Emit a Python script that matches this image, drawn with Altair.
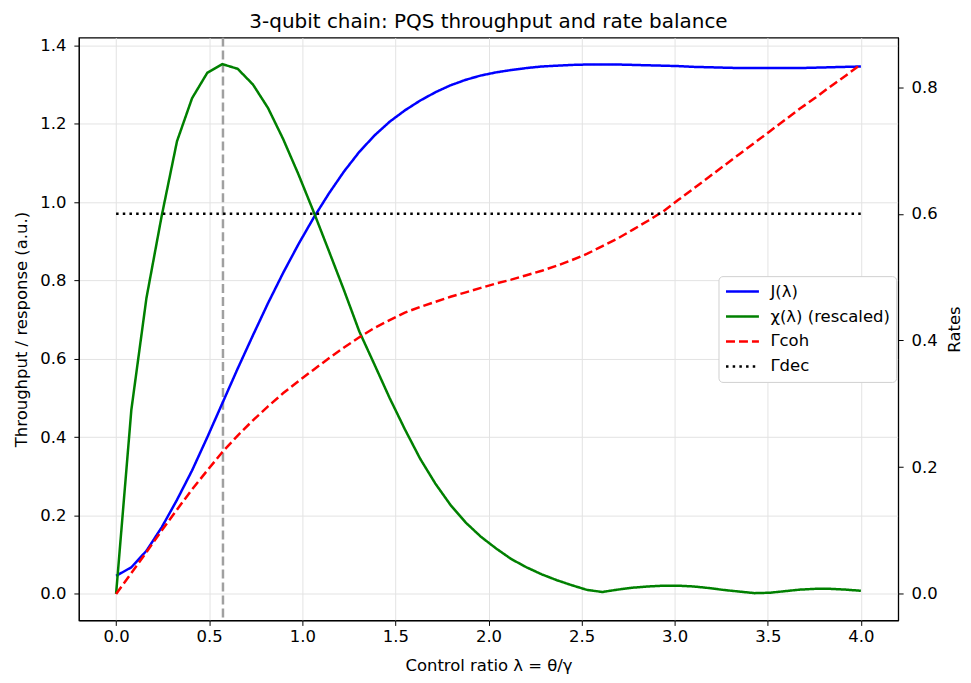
import altair as alt
import pandas as pd

lam = [0.000, 0.082, 0.163, 0.245, 0.327, 0.408, 0.490, 0.571, 0.653, 0.735,
       0.816, 0.898, 0.980, 1.061, 1.143, 1.224, 1.306, 1.388, 1.469, 1.551,
       1.633, 1.714, 1.796, 1.878, 1.959, 2.041, 2.122, 2.204, 2.286, 2.367,
       2.449, 2.531, 2.612, 2.694, 2.776, 2.857, 2.939, 3.020, 3.102, 3.184,
       3.265, 3.347, 3.429, 3.510, 3.592, 3.673, 3.755, 3.837, 3.918, 4.000]

J_vals = [0.046, 0.068, 0.110, 0.170, 0.240, 0.315, 0.400, 0.487, 0.575, 0.660,
          0.742, 0.820, 0.893, 0.960, 1.022, 1.078, 1.128, 1.170, 1.205, 1.234,
          1.259, 1.280, 1.298, 1.312, 1.323, 1.331, 1.337, 1.342, 1.346, 1.348,
          1.350, 1.351, 1.351, 1.351, 1.350, 1.349, 1.348, 1.347, 1.345, 1.344,
          1.343, 1.342, 1.342, 1.342, 1.342, 1.342, 1.343, 1.344, 1.345, 1.346]

chi_vals = [0.000, 0.470, 0.755, 0.965, 1.155, 1.265, 1.330, 1.352, 1.340, 1.300,
            1.240, 1.160, 1.070, 0.975, 0.875, 0.775, 0.670, 0.585, 0.500, 0.420,
            0.345, 0.282, 0.227, 0.182, 0.146, 0.116, 0.089, 0.068, 0.050, 0.035,
            0.022, 0.010, 0.005, 0.011, 0.016, 0.019, 0.021, 0.021, 0.019, 0.015,
            0.010, 0.006, 0.002, 0.003, 0.007, 0.011, 0.013, 0.013, 0.011, 0.008]

gcoh_vals = [0.000, 0.033, 0.066, 0.100, 0.133, 0.165, 0.195, 0.224, 0.250, 0.274,
             0.296, 0.317, 0.336, 0.354, 0.372, 0.389, 0.405, 0.420, 0.432, 0.444,
             0.453, 0.461, 0.469, 0.476, 0.483, 0.490, 0.496, 0.503, 0.510, 0.518,
             0.527, 0.537, 0.549, 0.561, 0.575, 0.589, 0.604, 0.622, 0.640, 0.658,
             0.676, 0.694, 0.712, 0.730, 0.748, 0.766, 0.783, 0.801, 0.818, 0.836]

gdec_value = 0.6
peak_lambda = 0.574

names = ["J(λ)", "χ(λ) (rescaled)", "Γcoh", "Γdec"]
colors = ["#0000ff", "#008000", "#ff0000", "#000000"]
dashes = [[1, 0], [1, 0], [9, 4], [2.5, 4.2]]

x_ticks = [0.0, 0.5, 1.0, 1.5, 2.0, 2.5, 3.0, 3.5, 4.0]
left_ticks = [0.0, 0.2, 0.4, 0.6, 0.8, 1.0, 1.2, 1.4]
right_ticks = [0.0, 0.2, 0.4, 0.6, 0.8]

left_df = pd.concat([
    pd.DataFrame({"lam": lam, "value": J_vals, "series": names[0]}),
    pd.DataFrame({"lam": lam, "value": chi_vals, "series": names[1]}),
])
right_df = pd.concat([
    pd.DataFrame({"lam": lam, "value": gcoh_vals, "series": names[2]}),
    pd.DataFrame({"lam": lam, "value": [gdec_value] * len(lam), "series": names[3]}),
])
peak_df = pd.DataFrame({"lam": [peak_lambda]})

FS = 16.5
LW = 2.5

xenc = alt.X("lam:Q",
             scale=alt.Scale(domain=[-0.2, 4.2], nice=False, zero=False),
             axis=alt.Axis(values=x_ticks, format=".1f", title="Control ratio λ = θ/γ",
                           grid=True, titlePadding=13, labelPadding=3))

leg = alt.Legend(title=None, orient="none", legendX=641, legendY=239,
                 symbolType="stroke", symbolSize=1089, symbolStrokeWidth=LW,
                 clipHeight=19, rowPadding=6, padding=6, labelOffset=10,
                 strokeColor="#d0d0d0", cornerRadius=4, fillColor="white",
                 labelFontSize=FS, labelFont="DejaVu Sans", labelColor="black")

color = alt.Color("series:N", scale=alt.Scale(domain=names, range=colors), legend=leg)
dash = alt.StrokeDash("series:N", scale=alt.Scale(domain=names, range=dashes), legend=leg)

rule = alt.Chart(peak_df).mark_rule(color="#a0a0a0", strokeDash=[9, 4], strokeWidth=LW).encode(
    x=xenc
)

left = alt.Chart(left_df).mark_line(strokeWidth=LW).encode(
    x=xenc,
    y=alt.Y("value:Q",
            scale=alt.Scale(domain=[-0.0676, 1.4196], nice=False, zero=False),
            axis=alt.Axis(values=left_ticks, format=".1f", orient="left",
                          title="Throughput / response (a.u.)", grid=True,
                          titlePadding=10, labelPadding=8)),
    color=color,
    strokeDash=dash,
    order="lam:Q",
)

right = alt.Chart(right_df).mark_line(strokeWidth=LW).encode(
    x=xenc,
    y=alt.Y("value:Q",
            scale=alt.Scale(domain=[-0.0418, 0.878], nice=False, zero=False),
            axis=alt.Axis(values=right_ticks, format=".1f", orient="right",
                          title="Rates", grid=False, titleAngle=270, titleBaseline="top",
                          titlePadding=9, labelPadding=8)),
    color=color,
    strokeDash=dash,
    order="lam:Q",
)

chart = alt.layer(rule, left, right).resolve_scale(y="independent").properties(
    width=821, height=584,
    padding={"left": 5, "top": 3, "right": 0, "bottom": 0},
    title=alt.TitleParams("3-qubit chain: PQS throughput and rate balance", offset=4),
).configure_view(stroke="black", strokeWidth=1.2).configure_axis(
    domainColor="black", tickColor="black", labelColor="black", titleColor="black",
    labelFont="DejaVu Sans", titleFont="DejaVu Sans", labelFontSize=FS, titleFontSize=FS,
    titleFontWeight="normal", gridColor="#e3e3e3", gridWidth=1, tickSize=5,
).configure_title(font="DejaVu Sans", fontSize=20, fontWeight="normal", color="black")

chart.save("out.html", embed_options={"renderer": "svg", "actions": False})
